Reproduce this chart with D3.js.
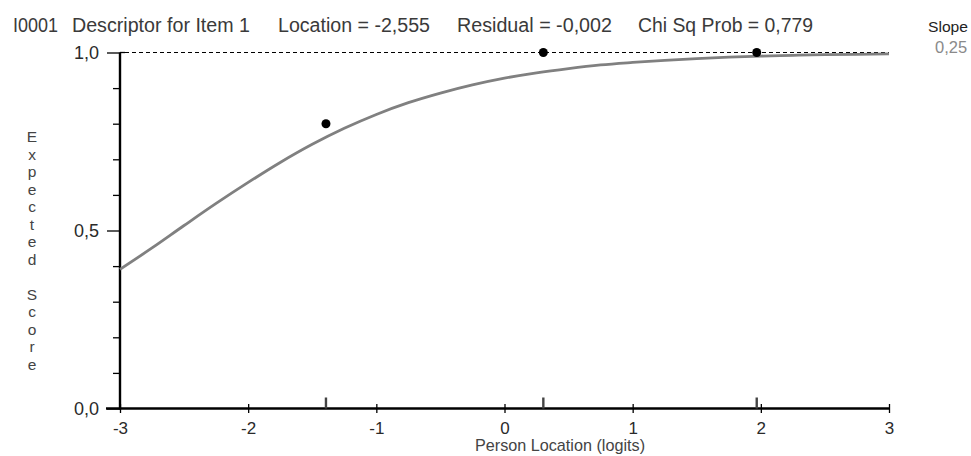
<!DOCTYPE html>
<html><head><meta charset="utf-8">
<script src="https://cdn.jsdelivr.net/npm/d3@7"></script>
<style>
html,body{margin:0;padding:0;background:#fff;}
svg{display:block;font-family:"Liberation Sans",Arial,sans-serif;}
</style></head>
<body>
<svg id="c" width="971" height="456"></svg>
<script>
// ---- data ----
const curveTheta = [-3,-2.75,-2.5,-2.25,-2,-1.75,-1.5,-1.25,-1,-0.75,-0.5,-0.25,0,0.25,0.5,0.75,1,1.25,1.5,1.75,2,2.25,2.5,2.75,3];
const curveScore = [0.391,0.451,0.514,0.576,0.635,0.691,0.742,0.787,0.826,0.859,0.886,0.909,0.928,0.943,0.955,0.965,0.972,0.978,0.983,0.987,0.990,0.992,0.994,0.995,0.996];
const obsTheta = [-1.393,0.303,1.968];
const obsScore = [0.80,1.0,1.0];
const xTickValues = [-3,-2,-1,0,1,2,3];
const yMajorTicks = [0,0.5,1];
const yMajorLabels = ["0,0","0,5","1,0"];
const yMinorTicks = [0.1,0.2,0.3,0.4,0.6,0.7,0.8,0.9];
const titleParts = ["I0001","Descriptor for Item 1","Location = -2,555","Residual = -0,002","Chi Sq Prob = 0,779"];
const slopeLabel = "Slope";
const slopeValue = "0,25";
const xTitle = "Person Location (logits)";
const yTitle = "Expected Score";

// ---- layout ----
const svg = d3.select("#c");
const x = d3.scaleLinear().domain([-3,3]).range([120,889]);
const y = d3.scaleLinear().domain([0,1]).range([408.5,52.5]);

// title
const titleX = [13,72,278,457,638];
const titleW = [45,178,152,155,175];
titleParts.forEach((t,i)=>{
  svg.append("text").attr("x",titleX[i]).attr("y",32)
    .attr("font-size",19.5).attr("fill","#3a3a3a")
    .attr("textLength",titleW[i]).attr("lengthAdjust","spacingAndGlyphs")
    .text(t);
});
svg.append("text").attr("x",928).attr("y",32).attr("font-size",15.5).attr("fill","#222")
  .attr("textLength",40).attr("lengthAdjust","spacingAndGlyphs").text(slopeLabel);
svg.append("text").attr("x",935).attr("y",53).attr("font-size",16.5).attr("fill","#8a8a8a").text(slopeValue);

// dashed reference line at 1.0
svg.append("line").attr("x1",x(-3)+5).attr("x2",x(3)).attr("y1",y(1)).attr("y2",y(1))
  .attr("stroke","#000").attr("stroke-width",1.2).attr("stroke-dasharray","4,3")
  .attr("shape-rendering","crispEdges");

// y axis minor ticks
const yMinor = svg.append("g").attr("transform",`translate(${x(-3)},0)`)
  .call(d3.axisLeft(y).tickValues(yMinorTicks).tickSize(7).tickFormat(""));
yMinor.select(".domain").remove();
yMinor.selectAll("line").attr("stroke","#000").attr("stroke-width",1.3);

// y axis major ticks
const yMaj = svg.append("g").attr("transform",`translate(${x(-3)},0)`)
  .call(d3.axisLeft(y).tickValues(yMajorTicks).tickSize(13).tickPadding(8)
    .tickFormat((d,i)=>yMajorLabels[i]));
yMaj.select(".domain").remove();
yMaj.selectAll("line").attr("stroke","#000").attr("stroke-width",1.3);
yMaj.selectAll("text").attr("font-size",18).attr("fill","#2a2a2a").attr("font-family","Liberation Sans, Arial, sans-serif");
svg.append("line").attr("x1",x(-3)).attr("x2",x(-3)+5).attr("y1",y(1)).attr("y2",y(1)).attr("stroke","#000").attr("stroke-width",1.3);

// y axis line
svg.append("line").attr("x1",x(-3)).attr("x2",x(-3)).attr("y1",y(1)).attr("y2",y(0)+1)
  .attr("stroke","#000").attr("stroke-width",2.4);

// x axis
const xAx = svg.append("g").attr("transform",`translate(0,${y(0)})`)
  .call(d3.axisBottom(x).tickValues(xTickValues).tickSize(4).tickPadding(9).tickFormat(d=>String(d)));
xAx.select(".domain").remove();
xAx.selectAll("line").attr("y1",-4.5).attr("y2",4.5).attr("stroke","#000").attr("stroke-width",1.3);
xAx.selectAll("text").attr("font-size",17).attr("fill","#2a2a2a").attr("font-family","Liberation Sans, Arial, sans-serif");
svg.append("line").attr("x1",x(-3)-14).attr("x2",x(3)).attr("y1",y(0)).attr("y2",y(0))
  .attr("stroke","#000").attr("stroke-width",2.4);

// class interval markers on x axis
svg.append("g").selectAll("line").data(obsTheta).join("line")
  .attr("x1",d=>x(d)).attr("x2",d=>x(d)).attr("y1",y(0)-11).attr("y2",y(0))
  .attr("stroke","#444").attr("stroke-width",2.4);

// model curve
svg.append("path").datum(curveTheta.map((t,i)=>[t,curveScore[i]]))
  .attr("d",d3.line().x(d=>x(d[0])).y(d=>y(d[1])).curve(d3.curveMonotoneX))
  .attr("fill","none").attr("stroke","#808080").attr("stroke-width",2.8);

// observed points
svg.append("g").selectAll("circle").data(obsTheta).join("circle")
  .attr("cx",d=>x(d)).attr("cy",(d,i)=>y(obsScore[i])).attr("r",4.5).attr("fill","#000");

// axis titles
svg.append("text").attr("x",560).attr("y",451).attr("text-anchor","middle")
  .attr("font-size",16.2).attr("fill","#444").text(xTitle);
const yt = svg.append("text").attr("font-size",15.5).attr("fill","#444").attr("text-anchor","middle");
yTitle.split("").forEach((ch,i)=>{
  yt.append("tspan").attr("x",32).attr("y",142+i*17.5).text(ch === " " ? "\u00a0" : ch);
});
</script>
</body></html>
